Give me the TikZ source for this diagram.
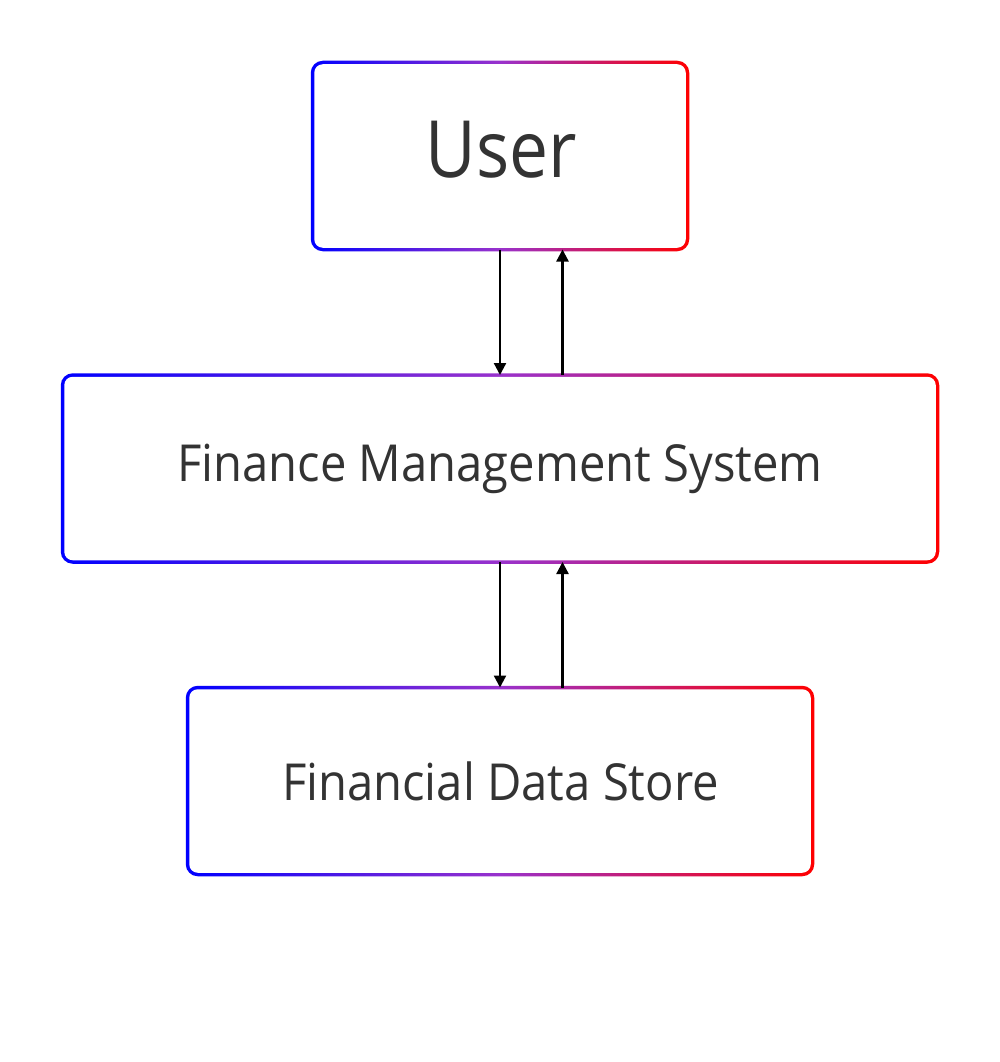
\documentclass[tikz,border=0pt]{standalone}
\usepackage{fontspec}
\setmainfont{Open Sans}
\newfontfamily\lblfont[FakeStretch=0.925]{Open Sans}
\newfontfamily\userfont[FakeStretch=0.88]{Open Sans}
\usetikzlibrary{arrows.meta,calc}
\definecolor{txt}{HTML}{333333}
\definecolor{midp}{HTML}{9932CC}
\tikzset{
  box/.style={rectangle, draw=none, outer sep=0pt, inner sep=0pt, minimum height=187pt},
  lbl/.style={text=txt, anchor=base, inner sep=0pt},
  flow/.style={line width=2.3pt, draw=black, -{Triangle[length=12pt,width=12pt]}},
}
\newcommand{\gradborder}[1]{%
  \shade[left color=blue, right color=red, middle color=midp, rounded corners=12pt]
    ($(#1.south west)+(-1.75,1.75)$) rectangle ($(#1.north east)+(1.75,-1.75)$);
  \fill[white, rounded corners=8.5pt]
    ($(#1.south west)+(1.75,-1.75)$) rectangle ($(#1.north east)+(-1.75,1.75)$);}
\begin{document}
\begin{tikzpicture}[x=1pt,y=-1pt]
  \useasboundingbox[fill=white] (0,0) rectangle (1000,1062);
  \node[box, minimum width=375pt] (user) at (500,156) {};
  \node[box, minimum width=875pt] (fms) at (500,468.5) {};
  \node[box, minimum width=625pt] (fds) at (500,781) {};
  \gradborder{user}
  \gradborder{fms}
  \gradborder{fds}
  \node[lbl, font=\userfont\fontsize{79}{90}\selectfont] (userlbl) at (501,177) {User};
  \node[lbl, font=\lblfont\fontsize{51}{60}\selectfont] (fmslbl) at (500,481) {Finance Management System};
  \node[lbl, font=\lblfont\fontsize{51}{60}\selectfont] (fdslbl) at (500.5,800) {Financial Data Store};
  \draw[flow] (user.south) -- (fms.north);
  \draw[flow] ($(fms.north)+(62.5,0)$) -- ($(user.south)+(62.5,0)$);
  \draw[flow] (fms.south) -- (fds.north);
  \draw[flow] ($(fds.north)+(62.5,0)$) -- ($(fms.south)+(62.5,0)$);
\end{tikzpicture}
\end{document}
